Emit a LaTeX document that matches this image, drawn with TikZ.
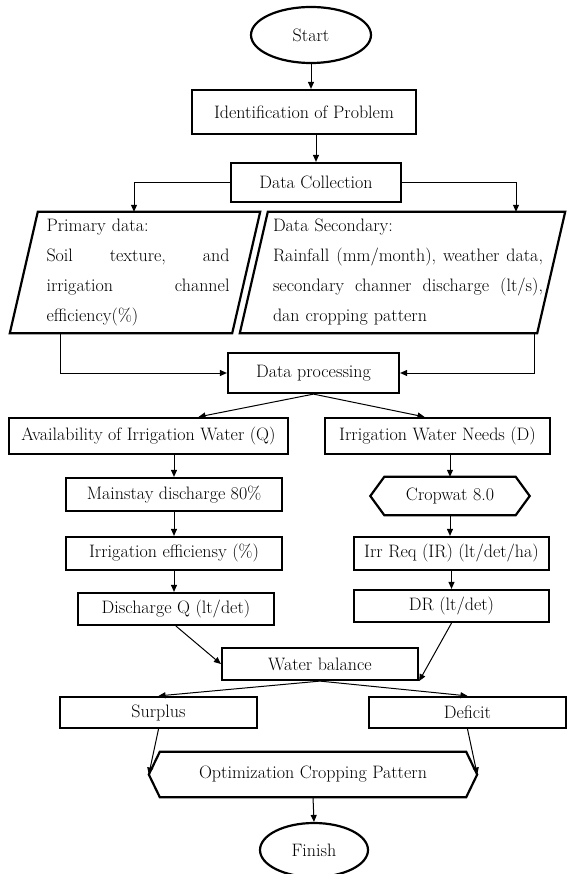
\documentclass[tikz,border=0pt]{standalone}
\usepackage{tikz}
\usetikzlibrary{arrows.meta}
\usetikzlibrary{calc}
\usetikzlibrary{shapes.geometric}

\begin{document}
\begin{tikzpicture}[x=1pt, y=-1pt, font=\fontsize{18}{21}\selectfont,
    box/.style={draw, line width=2.2pt, inner sep=0},
    term/.style={draw, ellipse, line width=2.2pt, inner sep=0},
    plain/.style={inner sep=0},
    outline/.style={line width=2.2pt, line join=miter},
    arr/.style={-{Triangle[length=7pt, width=6pt]}, line width=1pt}]
    \useasboundingbox (0,0) rectangle (569,874);

    \node[term, minimum width=120, minimum height=56] (start) at (311,35) {Start};
    \node[box, minimum width=224, minimum height=44] (ident) at (304,112) {Identification of Problem};
    \node[box, minimum width=170, minimum height=39] (dc) at (316,182.5) {Data Collection};

    \node[plain, minimum width=222, minimum height=121, text width=183, align=left,
          font=\fontsize{18}{30}\selectfont] (prim) at (138,272.5)
          {Primary data:\\ Soil\hfill texture,\hfill and\\ irrigation\hfill channel\\ efficiency(\%)};
    \node[plain, minimum width=300, minimum height=121, text width=270, align=left,
          font=\fontsize{18}{30}\selectfont] (sec) at (408,272.5)
          {Data Secondary:\\ Rainfall\hfill (mm/month),\hfill weather\hfill data,\\
           secondary\hfill channer\hfill discharge\hfill (lt/s),\\ dan cropping pattern};
    \draw[outline] ([xshift=-17pt]prim.south west) -- ([xshift=11pt]prim.north west)
        -- ([xshift=11pt]prim.north east) -- ([xshift=-17pt]prim.south east) -- cycle;
    \draw[outline] ([xshift=-18pt]sec.south west) -- ([xshift=10pt]sec.north west)
        -- ([xshift=7pt]sec.north east) -- ([xshift=-21pt]sec.south east) -- cycle;

    \node[box, minimum width=171, minimum height=40] (dp) at (313.5,373) {Data processing};
    \node[box, minimum width=279, minimum height=36] (avail) at (148.5,436) {Availability of Irrigation Water (Q)};
    \node[box, minimum width=225, minimum height=36] (wn) at (437.5,436) {Irrigation Water Needs (D)};

    \node[box, minimum width=216, minimum height=33] (ms) at (174,494.5) {Mainstay discharge 80\%};
    \node[box, minimum width=216, minimum height=33] (ie) at (174,553.5) {Irrigation efficiensy (\%)};
    \node[box, minimum width=196, minimum height=32] (dq) at (176,609) {Discharge Q (lt/det)};

    \node[plain, minimum width=159, minimum height=38] (cw) at (450,496) {Cropwat 8.0};
    \draw[outline] (cw.west) -- ([xshift=14pt]cw.north west) -- ([xshift=-14pt]cw.north east)
        -- (cw.east) -- ([xshift=-14pt]cw.south east) -- ([xshift=14pt]cw.south west) -- cycle;
    \node[box, minimum width=195, minimum height=33] (ir) at (451.5,553.5) {Irr Req (IR) (lt/det/ha)};
    \node[box, minimum width=195, minimum height=32] (dr) at (451.5,606) {DR (lt/det)};

    \node[box, minimum width=196, minimum height=32] (wb) at (320,664) {Water balance};
    \node[box, minimum width=197, minimum height=31] (sur) at (158.5,712.5) {Surplus};
    \node[box, minimum width=197, minimum height=31] (def) at (467.5,712.5) {Deficit};

    \node[plain, minimum width=328, minimum height=45] (opt) at (313,774.5) {Optimization Cropping Pattern};
    \draw[outline] (opt.west) -- ([xshift=11pt]opt.north west) -- ([xshift=-11pt]opt.north east)
        -- (opt.east) -- ([xshift=-11pt]opt.south east) -- ([xshift=11pt]opt.south west) -- cycle;
    \node[term, minimum width=108, minimum height=54] (fin) at (314,850) {Finish};

    \draw[arr] (start.south) -- (start.south |- ident.north);
    \draw[arr] (dc.north |- ident.south) -- (dc.north);
    \draw[arr] (dc.west) -| ([xshift=-4pt]prim.north);
    \draw[arr] (dc.east) -| ([xshift=108pt]sec.north);
    \draw[arr] ([xshift=-78pt]prim.south) |- (dp.west);
    \draw[arr] ([xshift=126pt]sec.south) |- (dp.east);
    \draw[arr] (dp.south) -- ([xshift=50pt]avail.north);
    \draw[arr] (dp.south) -- ([xshift=-13pt]wn.north);
    \draw[arr] (avail.south -| ms.north) -- (ms.north);
    \draw[arr] (ms.south) -- (ie.north);
    \draw[arr] (ie.south) -- (ie.south |- dq.north);
    \draw[arr] (wn.south -| cw.north) -- (cw.north);
    \draw[arr] (cw.south) -- (cw.south |- ir.north);
    \draw[arr] (ir.south) -- (dr.north);
    \draw[arr] (dq.south) -- (wb.west);
    \draw[arr] (dr.south) -- (wb.south east);
    \draw[arr] (wb.south) -- (sur.north);
    \draw[arr] (wb.south) -- (def.north);
    \draw[arr] (sur.south) -- (opt.west);
    \draw[arr] (def.south) -- (opt.east);
    \draw[arr] (opt.south) -- (fin.north);
\end{tikzpicture}
\end{document}
